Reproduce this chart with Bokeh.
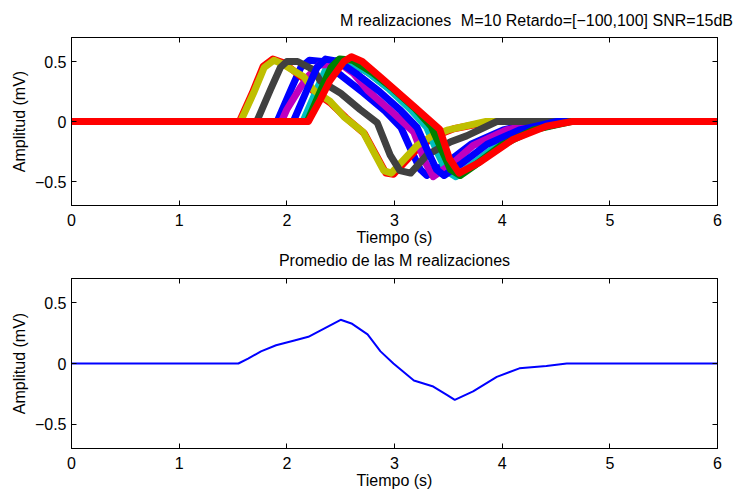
from bokeh.plotting import figure
from bokeh.models import LinearAxis, FixedTicker, Range1d
from bokeh.layouts import column
from bokeh.embed import file_html
from bokeh.resources import INLINE

# ---- data (time in s, amplitude in mV) ----
t_b1 = [0, 1.91, 2.04, 2.13, 2.21, 2.33, 2.51, 2.71, 2.91, 3.06, 3.16, 3.24, 3.30, 3.46, 3.71, 4.01, 4.36, 6]
v_b1 = [0, 0, 0.27, 0.45, 0.51, 0.50, 0.38, 0.24, 0.09, -0.05, -0.25, -0.40, -0.45, -0.36, -0.19, -0.07, 0, 0]

t_g1 = [0, 2.17, 2.30, 2.39, 2.47, 2.59, 2.77, 2.97, 3.17, 3.32, 3.42, 3.50, 3.59, 3.72, 3.97, 4.27, 4.62, 6]
v_g1 = [0, 0, 0.27, 0.45, 0.51, 0.50, 0.40, 0.26, 0.10, -0.05, -0.25, -0.40, -0.45, -0.37, -0.20, -0.07, 0, 0]

t_r1 = [0, 1.56, 1.68, 1.78, 1.87, 1.97, 2.15, 2.25, 2.41, 2.55, 2.72, 2.83, 2.92, 2.99, 3.22, 3.38, 3.55, 3.90, 6]
v_r1 = [0, 0, 0.24, 0.46, 0.52, 0.49, 0.36, 0.25, 0.15, 0.03, -0.10, -0.28, -0.43, -0.44, -0.22, -0.12, -0.06, 0, 0]

t_c = [0, 2.15, 2.28, 2.37, 2.45, 2.57, 2.75, 2.95, 3.15, 3.30, 3.40, 3.48, 3.57, 3.70, 3.95, 4.25, 4.60, 6]
v_c = [0, 0, 0.27, 0.45, 0.50, 0.50, 0.41, 0.27, 0.10, -0.05, -0.26, -0.41, -0.46, -0.37, -0.20, -0.07, 0, 0]

t_m = [0, 1.95, 2.00, 2.13, 2.20, 2.30, 2.50, 2.62, 2.75, 2.99, 3.18, 3.28, 3.36, 3.55, 3.73, 4.04, 4.40, 6]
v_m = [0, 0, 0.10, 0.29, 0.38, 0.47, 0.48, 0.40, 0.26, 0.07, -0.09, -0.33, -0.46, -0.34, -0.20, -0.07, 0, 0]

t_y = [0, 1.57, 1.69, 1.79, 1.88, 1.96, 2.16, 2.25, 2.40, 2.53, 2.71, 2.81, 2.90, 2.97, 3.21, 3.35, 3.50, 3.85, 6]
v_y = [0, 0, 0.235, 0.45, 0.51, 0.48, 0.37, 0.26, 0.17, 0.04, -0.09, -0.26, -0.41, -0.43, -0.20, -0.12, -0.07, 0, 0]

t_k = [0, 1.72, 1.85, 1.94, 2.00, 2.10, 2.25, 2.31, 2.50, 2.68, 2.84, 2.96, 3.05, 3.15, 3.30, 3.52, 3.67, 3.95, 6]
v_k = [0, 0, 0.27, 0.45, 0.50, 0.50, 0.43, 0.34, 0.235, 0.10, -0.01, -0.28, -0.41, -0.43, -0.28, -0.17, -0.12, 0, 0]

t_b2 = [0, 2.06, 2.19, 2.28, 2.36, 2.48, 2.66, 2.86, 3.06, 3.21, 3.31, 3.39, 3.46, 3.61, 3.86, 4.16, 4.51, 6]
v_b2 = [0, 0, 0.27, 0.45, 0.52, 0.50, 0.39, 0.25, 0.09, -0.05, -0.25, -0.40, -0.45, -0.36, -0.19, -0.07, 0, 0]

t_g2 = [0, 2.19, 2.32, 2.41, 2.49, 2.61, 2.79, 2.99, 3.19, 3.34, 3.44, 3.52, 3.61, 3.74, 3.99, 4.29, 4.64, 6]
v_g2 = [0, 0, 0.27, 0.45, 0.52, 0.51, 0.41, 0.27, 0.11, -0.04, -0.24, -0.40, -0.45, -0.37, -0.20, -0.07, 0, 0]

t_r2 = [0, 2.20, 2.31, 2.40, 2.53, 2.60, 2.70, 2.87, 3.18, 3.42, 3.51, 3.60, 3.79, 4.10, 4.41, 4.65, 6]
v_r2 = [0, 0, 0.18, 0.34, 0.50, 0.54, 0.50, 0.37, 0.125, -0.065, -0.31, -0.43, -0.34, -0.15, -0.04, 0, 0]

t_avg = [0, 1.55, 1.64, 1.76, 1.90, 2.07, 2.20, 2.35, 2.50, 2.60, 2.75, 2.87, 2.99, 3.18, 3.36, 3.49, 3.56, 3.73, 3.95, 4.16, 4.41, 4.60, 6]
v_avg = [0, 0, 0.04, 0.10, 0.15, 0.19, 0.22, 0.29, 0.36, 0.33, 0.24, 0.10, 0.0, -0.14, -0.19, -0.26, -0.30, -0.23, -0.11, -0.04, -0.02, 0, 0]

x_ticks = [0, 1, 2, 3, 4, 5, 6]
y_ticks = [-0.5, 0, 0.5]
y_tick_labels = {-0.5: "\u22120.5", 0: "0", 0.5: "0.5"}

title_top = "M realizaciones"
title_top_sub = "M=10 Retardo=[\u2212100,100] SNR=15dB"
title_bottom = "Promedio de las M realizaciones"
x_label = "Tiempo (s)"
y_label = "Amplitud (mV)"

series = [
    (t_b1, v_b1, "#0000ff"),
    (t_g1, v_g1, "#008000"),
    (t_r1, v_r1, "#ff0000"),
    (t_c, v_c, "#00bfbf"),
    (t_m, v_m, "#bf00bf"),
    (t_y, v_y, "#bfbf00"),
    (t_k, v_k, "#404040"),
    (t_b2, v_b2, "#0000ff"),
    (t_g2, v_g2, "#008000"),
    (t_r2, v_r2, "#ff0000"),
]

FONT = "Liberation Sans"


def make_fig(titles, min_top, min_bottom, title_gap):
    p = figure(width=748, height=248, output_backend="svg", toolbar_location=None,
               x_range=Range1d(0, 6), y_range=Range1d(-0.7, 0.7),
               min_border_left=71, min_border_right=31,
               min_border_top=min_top, min_border_bottom=min_bottom)
    p.xgrid.visible = False
    p.ygrid.visible = False
    p.outline_line_color = "black"
    p.background_fill_color = "white"
    p.border_fill_color = "white"
    for ax in p.xaxis:
        ax.ticker = FixedTicker(ticks=x_ticks)
        ax.axis_label = x_label
        ax.major_label_standoff = 8
        ax.axis_label_standoff = 0
    for ax in p.yaxis:
        ax.ticker = FixedTicker(ticks=y_ticks)
        ax.major_label_overrides = y_tick_labels
        ax.axis_label = y_label
        ax.major_label_standoff = 5
        ax.axis_label_standoff = 4
    for ax in list(p.xaxis) + list(p.yaxis):
        ax.major_tick_in = 5
        ax.major_tick_out = 0
        ax.minor_tick_in = 0
        ax.minor_tick_out = 0
        ax.axis_line_color = "black"
        ax.major_tick_line_color = "black"
        ax.major_label_text_font = FONT
        ax.major_label_text_font_size = "16px"
        ax.major_label_text_color = "black"
        ax.axis_label_text_font = FONT
        ax.axis_label_text_font_size = "16px"
        ax.axis_label_text_font_style = "normal"
        ax.axis_label_text_color = "black"
    # mirrored ticks on top and right (no labels)
    top = LinearAxis(ticker=FixedTicker(ticks=x_ticks),
                     major_label_overrides={t: "" for t in x_ticks},
                     major_tick_in=5, major_tick_out=0, minor_tick_in=0, minor_tick_out=0,
                     major_label_standoff=0, axis_line_color="black")
    right = LinearAxis(ticker=FixedTicker(ticks=y_ticks),
                       major_label_overrides={t: "" for t in y_ticks},
                       major_tick_in=5, major_tick_out=0, minor_tick_in=0, minor_tick_out=0,
                       major_label_standoff=0, axis_line_color="black")
    p.add_layout(top, "above")
    p.add_layout(right, "right")
    # titles placed above the frame (texts centred at the given x positions)
    title_axis = LinearAxis(ticker=FixedTicker(ticks=list(titles.keys())),
                            major_label_overrides=titles,
                            major_tick_in=0, major_tick_out=0, minor_tick_in=0, minor_tick_out=0,
                            major_tick_line_color=None, minor_tick_line_color=None,
                            axis_line_color=None, major_label_standoff=title_gap,
                            major_label_text_font=FONT, major_label_text_font_size="16px",
                            major_label_text_color="black")
    p.add_layout(title_axis, "above")
    return p


p1 = make_fig({3.01: title_top, 4.88: title_top_sub}, 37, 41, 9)
for t, v, c in series:
    p1.line(t, v, line_color=c, line_width=7, line_join="round")

p2 = make_fig({3.0: title_bottom}, 30, 48, 10)
p2.line(t_avg, v_avg, line_color="#0000ff", line_width=2)

layout = column(p1, p2, spacing=0)
open("out.html", "w").write(file_html(layout, INLINE))
